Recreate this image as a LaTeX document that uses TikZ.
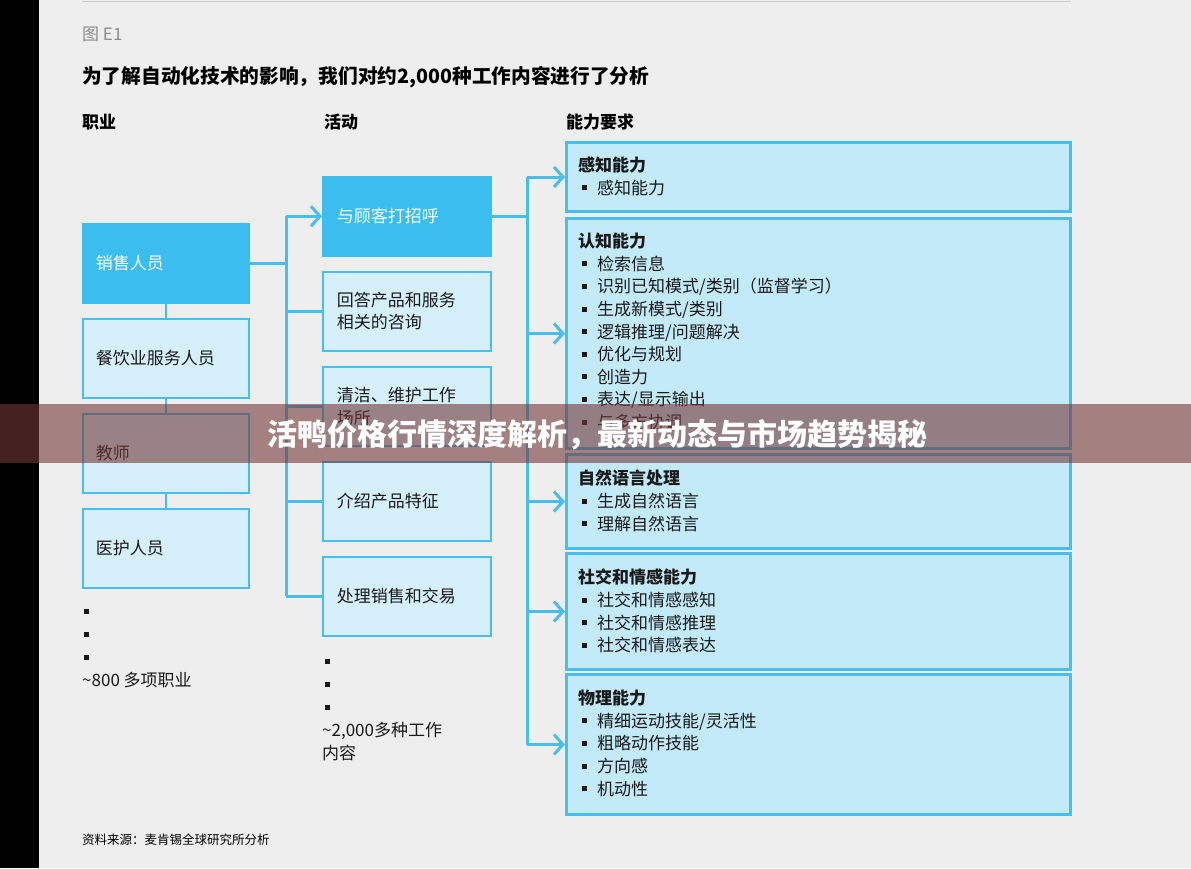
\documentclass[tikz,border=0pt]{standalone}
\usepackage{fontspec}
\setmainfont{Noto Sans CJK SC}
\usetikzlibrary{arrows.meta,positioning}
\definecolor{boxblue}{RGB}{59,189,240}
\definecolor{linkblue}{RGB}{72,190,236}
\definecolor{palefill}{RGB}{213,240,251}
\definecolor{abilfill}{RGB}{194,234,248}
\definecolor{pagegray}{RGB}{238,238,238}
\definecolor{bannerred}{RGB}{116,55,55}
\newcommand\itm[1]{\makebox[19pt][l]{\hspace{4pt}\rule[4pt]{5pt}{5pt}}#1}
\newcommand\dotsq{\rule[4pt]{5pt}{5pt}}

\begin{document}
\begin{tikzpicture}[x=1pt,y=-1pt,
  body/.style={font=\fontsize{17}{22.6}\selectfont, text=black!90},
  hdr/.style={anchor=west, inner sep=0pt, font=\bfseries\fontsize{17}{17}\selectfont},
  occ/.style={body, draw=linkblue, line width=1.5pt, fill=palefill, minimum width=166pt,
    minimum height=79pt, text width=140pt, inner xsep=13pt, align=left, anchor=north west},
  hot/.style={fill=boxblue, draw=boxblue, text=white},
  act/.style={occ, minimum width=168pt, inner xsep=14pt},
  abil/.style={draw=linkblue, line width=3pt, fill=abilfill, minimum width=504pt, anchor=north west, inner sep=0pt},
  abiltxt/.style={body, anchor=north west, inner sep=0pt, align=left},
  more/.style={font=\fontsize{17}{23}\selectfont, text=black!90, anchor=north west, inner sep=0pt, align=left},
  link/.style={draw=linkblue, line width=3pt},
  arr/.style={link, -{Straight Barb[length=9pt,width=20pt]}}]
\useasboundingbox (0,0) rectangle (1191,868);
\fill[pagegray] (0,0) rectangle (1191,868);
\fill[black] (0,0) rectangle (39,868);
\draw[black!20, line width=1pt] (82,1) -- (1071,1);

\node[anchor=west, inner sep=0pt, text=black!45, font=\fontsize{17}{17}\selectfont] (figno) at (82,34) {图 E1};
\node[anchor=west, inner sep=0pt, font=\bfseries\fontsize{19.7}{19.7}\selectfont] (title) at (82,77)
  {为了解自动化技术的影响，我们对约2,000种工作内容进行了分析};
\node[hdr] (hdocc) at (82,122) {职业};
\node[hdr] (hdact) at (324,122) {活动};
\node[hdr] (hdabil) at (566,122) {能力要求};

% occupations
\node[occ, hot] (sales) at (82,223) {销售人员};
\node[occ] (food) at (82,318) {餐饮业服务人员};
\node[occ] (teach) at (82,413) {教师};
\node[occ] (medic) at (82,508) {医护人员};
\foreach \a/\b in {sales/food,food/teach,teach/medic}
  \draw[link, line width=2.5pt] (\a.south) -- (\b.north);
\node[more] (occmore) at (84,609)
  {\dotsq\\\dotsq\\\dotsq\\[-1pt]\hspace{-2pt}\textasciitilde800 多项职业};

% activities
\node[act, hot] (greet) at (322,176) {与顾客打招呼};
\node[act] (answer) at (322,271) {回答产品和服务\\相关的咨询};
\node[act] (clean) at (322,366) {清洁、维护工作\\场所};
\node[act] (intro) at (322,461) {介绍产品特征};
\node[act] (deal) at (322,556) {处理销售和交易};
\node[more] (actmore) at (325,659)
  {\dotsq\\\dotsq\\\dotsq\\[-1pt]\hspace{-3pt}\textasciitilde2,000多种工作\\\hspace{-3pt}内容};

% abilities
\node[abil, minimum height=69pt] (perc) at (565,141) {};
\node[abil, minimum height=230pt] (cogn) at (565,217) {};
\node[abil, minimum height=94pt] (nlp) at (565,453) {};
\node[abil, minimum height=116pt] (social) at (565,552) {};
\node[abil, minimum height=140pt] (phys) at (565,673) {};
\node[abiltxt] (perctxt) at (578,157) {\textbf{感知能力}\\\itm{感知能力}};
\node[abiltxt] (cogntxt) at (578,233) {\textbf{认知能力}\\\itm{检索信息}\\\itm{识别已知模式/类别（监督学习）}\\
  \itm{生成新模式/类别}\\\itm{逻辑推理/问题解决}\\\itm{优化与规划}\\\itm{创造力}\\\itm{表达/显示输出}\\\itm{与多方协调}};
\node[abiltxt] (nlptxt) at (578,470) {\textbf{自然语言处理}\\\itm{生成自然语言}\\\itm{理解自然语言}};
\node[abiltxt] (socialtxt) at (578,569) {\textbf{社交和情感能力}\\\itm{社交和情感感知}\\\itm{社交和情感推理}\\\itm{社交和情感表达}};
\node[abiltxt] (phystxt) at (578,690) {\textbf{物理能力}\\\itm{精细运动技能/灵活性}\\\itm{粗略动作技能}\\\itm{方向感}\\\itm{机动性}};

% connectors
\coordinate (actbus) at (286,0);
\coordinate (abilbus) at (527,0);
\draw[link] (sales.east) -- (sales.east -| actbus);
\draw[link] (greet.west -| actbus) -- (deal.west -| actbus);
\draw[arr] (greet.west -| actbus) -- (greet.west);
\foreach \n in {answer,clean,intro,deal}
  \draw[link] (\n.west -| actbus) -- (\n.west);
\draw[link] (greet.east) -- (greet.east -| abilbus);
\draw[link] (perc.west -| abilbus) -- (phys.west -| abilbus);
\foreach \n in {perc,cogn,nlp,social,phys}
  \draw[arr] (\n.west -| abilbus) -- (\n.west);

\node[anchor=west, inner sep=0pt, font=\fontsize{12.5}{12.5}\selectfont] (src) at (82,840) {资料来源：麦肯锡全球研究所分析};

% banner
\fill[bannerred, opacity=0.6] (0,404) rectangle (1191,463);
\node[text=white, font=\bfseries\fontsize{30}{30}\selectfont] (banner) at (597,435)
  {活鸭价格行情深度解析，最新动态与市场趋势揭秘};
\end{tikzpicture}
\end{document}
